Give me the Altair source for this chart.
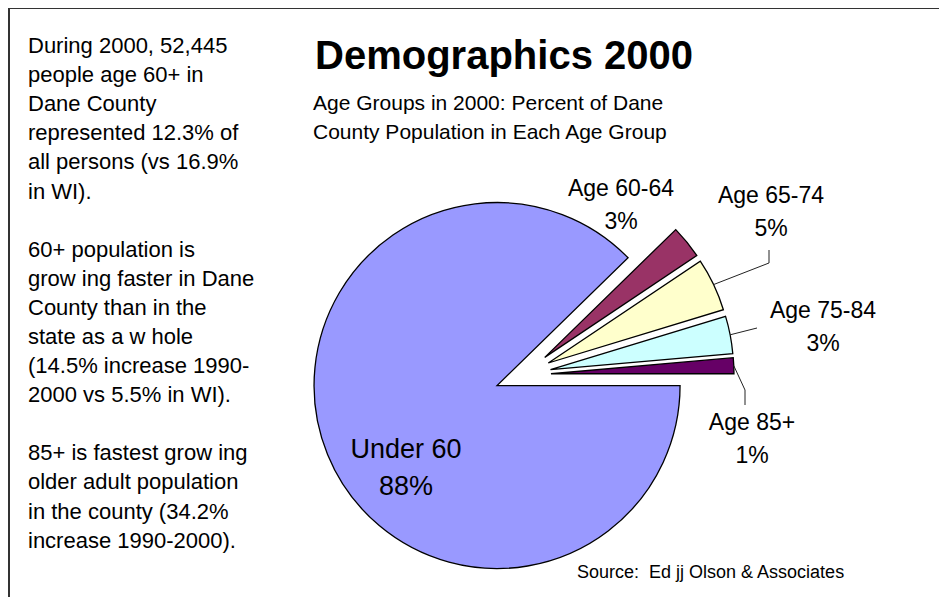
import math
import altair as alt
import pandas as pd

# ---------------- data ----------------
CATEGORIES = ["Under 60", "Age 60-64", "Age 65-74", "Age 75-84", "Age 85+"]
VALUES = [87.7, 2.9, 4.7, 3.3, 1.4]
COLORS = ["#9999FF", "#993366", "#FFFFCC", "#CCFFFF", "#660066"]

TITLE = "Demographics 2000"
SUBTITLE = ["Age Groups in 2000: Percent of Dane", "County Population in Each Age Group"]
SOURCE = "Source:\u00a0 Ed jj Olson & Associates"
PARAGRAPHS = [
    [
        "During 2000, 52,445",
        "people age 60+ in",
        "Dane County",
        "represented 12.3% of",
        "all persons (vs 16.9%",
        "in WI).",
    ],
    [
        "60+ population is",
        "grow ing faster in Dane",
        "County than in the",
        "state as a w hole",
        "(14.5% increase 1990-",
        "2000 vs 5.5% in WI).",
    ],
    [
        "85+ is fastest grow ing",
        "older adult population",
        "in the county (34.2%",
        "increase 1990-2000).",
    ],
]

# ---------------- layout (plot-area pixels) ----------------
W, H = 931, 589
CX, CY = 515, 367
RADIUS = 183
EXPLODE = 28
START = math.pi / 2  # first slice starts at 3 o'clock
LINE_H = 29.1
PARA_Y = [45, 45 + 7 * LINE_H, 45 + 14 * LINE_H]

LABEL_POS = {
    "Under 60": (398, 450),
    "Age 60-64": (613, 188),
    "Age 65-74": (763, 195),
    "Age 75-84": (815, 310),
    "Age 85+": (744, 422),
}
LEADER_ELBOW = {
    "Age 65-74": (761, 255),
    "Age 75-84": (749, 320),
    "Age 85+": (737, 382),
}
LEADER_END = {
    "Age 65-74": (761, 242),
    "Age 75-84": (749, 320),
    "Age 85+": (737, 397),
}

FONT = "Liberation Sans, Arial, sans-serif"

df = pd.DataFrame({
    "cat": CATEGORIES,
    "value": VALUES,
    "order": list(range(len(CATEGORIES))),
    "lx": [LABEL_POS[c][0] for c in CATEGORIES],
    "ly": [LABEL_POS[c][1] for c in CATEGORIES],
    "ex": [LEADER_ELBOW.get(c, (None, None))[0] for c in CATEGORIES],
    "ey": [LEADER_ELBOW.get(c, (None, None))[1] for c in CATEGORIES],
    "tx": [LEADER_END.get(c, (None, None))[0] for c in CATEGORIES],
    "ty": [LEADER_END.get(c, (None, None))[1] for c in CATEGORIES],
})

base = (
    alt.Chart(df)
    .transform_joinaggregate(total="sum(value)")
    .transform_window(cum="sum(value)", sort=[alt.SortField("order")], frame=[None, 0])
    .transform_calculate(
        a0=f"{START} + 2*PI*(datum.cum - datum.value)/datum.total",
        a1=f"{START} + 2*PI*datum.cum/datum.total",
    )
    .transform_calculate(mid="(datum.a0 + datum.a1)/2")
    .transform_calculate(
        cx=f"{CX} + {EXPLODE}*sin(datum.mid)",
        cy=f"{CY} - {EXPLODE}*cos(datum.mid)",
        label="datum.cat + '\\n' + format(datum.value/datum.total, '.0%')",
    )
    .transform_calculate(
        sx=f"datum.cx + {RADIUS}*sin(datum.mid)",
        sy=f"datum.cy - {RADIUS}*cos(datum.mid)",
    )
)

arcs = base.mark_arc(radius=RADIUS, stroke="black", strokeWidth=1.3).encode(
    theta=alt.Theta("a0:Q", scale=None, stack=False),
    theta2="a1:Q",
    x=alt.X("cx:Q", scale=None),
    y=alt.Y("cy:Q", scale=None),
    color=alt.Color("cat:N", scale=alt.Scale(domain=CATEGORIES, range=COLORS), legend=None),
)

leaders = base.transform_filter("isValid(datum.ex)")
lead1 = leaders.mark_rule(color="#222222", strokeWidth=1).encode(
    x=alt.X("sx:Q", scale=None), y=alt.Y("sy:Q", scale=None), x2="ex:Q", y2="ey:Q"
)
lead2 = leaders.mark_rule(color="#222222", strokeWidth=1).encode(
    x=alt.X("ex:Q", scale=None), y=alt.Y("ey:Q", scale=None), x2="tx:Q", y2="ty:Q"
)

small_labels = base.transform_filter("datum.order > 0").mark_text(
    font=FONT, fontSize=23, lineBreak="\n", lineHeight=32.5, align="center",
    baseline="alphabetic", color="black",
).encode(x=alt.X("lx:Q", scale=None), y=alt.Y("ly:Q", scale=None), text="label:N")

big_label = base.transform_filter("datum.order == 0").mark_text(
    font=FONT, fontSize=27, lineBreak="\n", lineHeight=36.7, align="center",
    baseline="alphabetic", color="black",
).encode(x=alt.X("lx:Q", scale=None), y=alt.Y("ly:Q", scale=None), text="label:N")

one = alt.Data(values=[{"k": 1}])

title = alt.Chart(one).mark_text(
    font=FONT, fontSize=40, fontWeight="bold", align="center", baseline="alphabetic", color="black"
).encode(x=alt.value(496), y=alt.value(61), text=alt.value(TITLE))

subtitle = alt.Chart(one).mark_text(
    font=FONT, fontSize=21, align="left", baseline="alphabetic", lineBreak="\n",
    lineHeight=29, color="black",
).encode(x=alt.value(305), y=alt.value(102), text=alt.value("\n".join(SUBTITLE)))

paragraphs = [
    alt.Chart(one).mark_text(
        font=FONT, fontSize=22, align="left", baseline="alphabetic", lineBreak="\n",
        lineHeight=LINE_H, color="black",
    ).encode(x=alt.value(20), y=alt.value(py), text=alt.value("\n".join(lines)))
    for lines, py in zip(PARAGRAPHS, PARA_Y)
]

source = alt.Chart(one).mark_text(
    font=FONT, fontSize=18, align="left", baseline="alphabetic", color="black"
).encode(x=alt.value(569), y=alt.value(570), text=alt.value(SOURCE))

border_top = alt.Chart(one).mark_rule(color="#333333", strokeWidth=2).encode(
    x=alt.value(0), x2=alt.value(W), y=alt.value(0)
)
border_left = alt.Chart(one).mark_rule(color="#333333", strokeWidth=2).encode(
    x=alt.value(1), y=alt.value(0), y2=alt.value(H)
)

chart = (
    alt.layer(arcs, lead1, lead2, small_labels, big_label, title, subtitle, *paragraphs, source,
              border_top, border_left)
    .properties(width=W, height=H, padding=0, autosize=alt.AutoSizeParams(type="none"),
                background="white")
    .configure_view(strokeWidth=0)
)

chart.save("out.html", embed_options={"renderer": "svg", "actions": False})
